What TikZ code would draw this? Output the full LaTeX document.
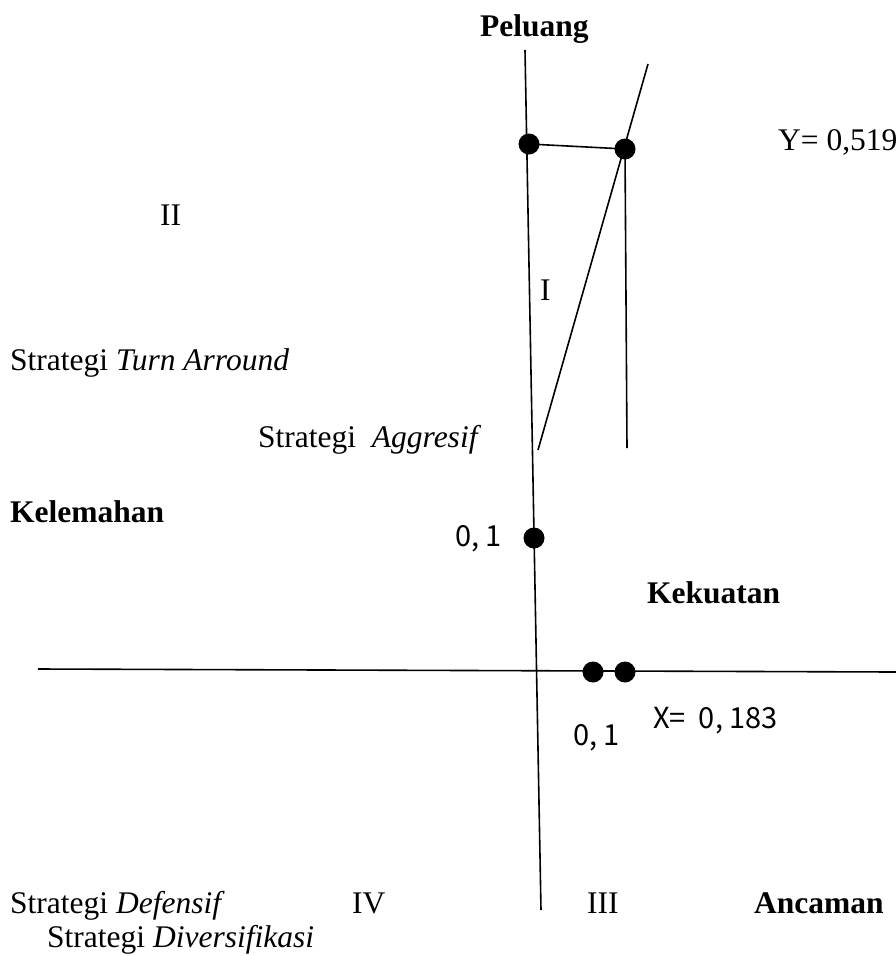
\documentclass[tikz,border=0pt]{standalone}
\usepackage{fontspec}
\setmainfont{Liberation Serif}
\newfontfamily\gothic{Noto Sans CJK JP}
\begin{document}
\begin{tikzpicture}[x=1pt,y=-1pt,
  axisline/.style={line width=1.6pt},
  dot/.style={circle,fill=black,inner sep=0pt,minimum size=21pt},
  lbl/.style={inner sep=0pt,anchor=base west,font=\fontsize{31.5}{38}\selectfont},
  bold/.style={lbl,font=\fontsize{31.5}{38}\selectfont\bfseries},
  num/.style={inner sep=0pt,anchor=base west,font=\gothic\fontsize{29}{34}\selectfont}]
\useasboundingbox (0,0) rectangle (896,956);

% axes
\coordinate (vtop) at (525,50);
\coordinate (vbot) at (541,910);
\coordinate (hleft) at (38,669);
\coordinate (hright) at (896,672);
\draw[axisline] (vtop) -- (vbot);
\draw[axisline] (hleft) -- (hright);

% points
\node[dot] (ya) at (529,144) {};
\node[dot] (yb) at (625,149) {};
\node[dot] (ym) at (534,538) {};
\node[dot] (xa) at (593,672) {};
\node[dot] (xb) at (625,672) {};

% quadrant I construction
\coordinate (dtop) at (648,64);
\coordinate (dbot) at (538,450);
\coordinate (vb) at (627,448);
\draw[axisline] (ya.center) -- (yb.center);
\draw[axisline] (dtop) -- (dbot);
\draw[axisline] (yb.center) -- (vb);

% labels
\node[bold] (peluang) at (480,36) {Peluang};
\node[lbl] (yval) at (778,150) {Y= 0,519};
\node[lbl] (q2) at (160,225) {II};
\node[lbl] (q1) at (540,300) {I};
\node[lbl] (turn) at (10,370) {Strategi \textit{Turn Arround}};
\node[lbl] (aggr) at (258,447) {Strategi \ \textit{Aggresif}};
\node[bold] (kelemahan) at (10,522) {Kelemahan};
\node[num] (y01) at (455,546) {0, 1};
\node[bold] (kekuatan) at (647,603) {Kekuatan};
\node[num] (xval) at (653,728) {X=\ \ 0, 183};
\node[num] (x01) at (573,745) {0, 1};
\node[lbl] (defensif) at (10,913) {Strategi \textit{Defensif}};
\node[lbl] (q4) at (352,913) {IV};
\node[lbl] (q3) at (587,913) {III};
\node[bold] (ancaman) at (754,913) {Ancaman};
\node[lbl] (divers) at (47,947) {Strategi \textit{Diversifikasi}};
\end{tikzpicture}
\end{document}
